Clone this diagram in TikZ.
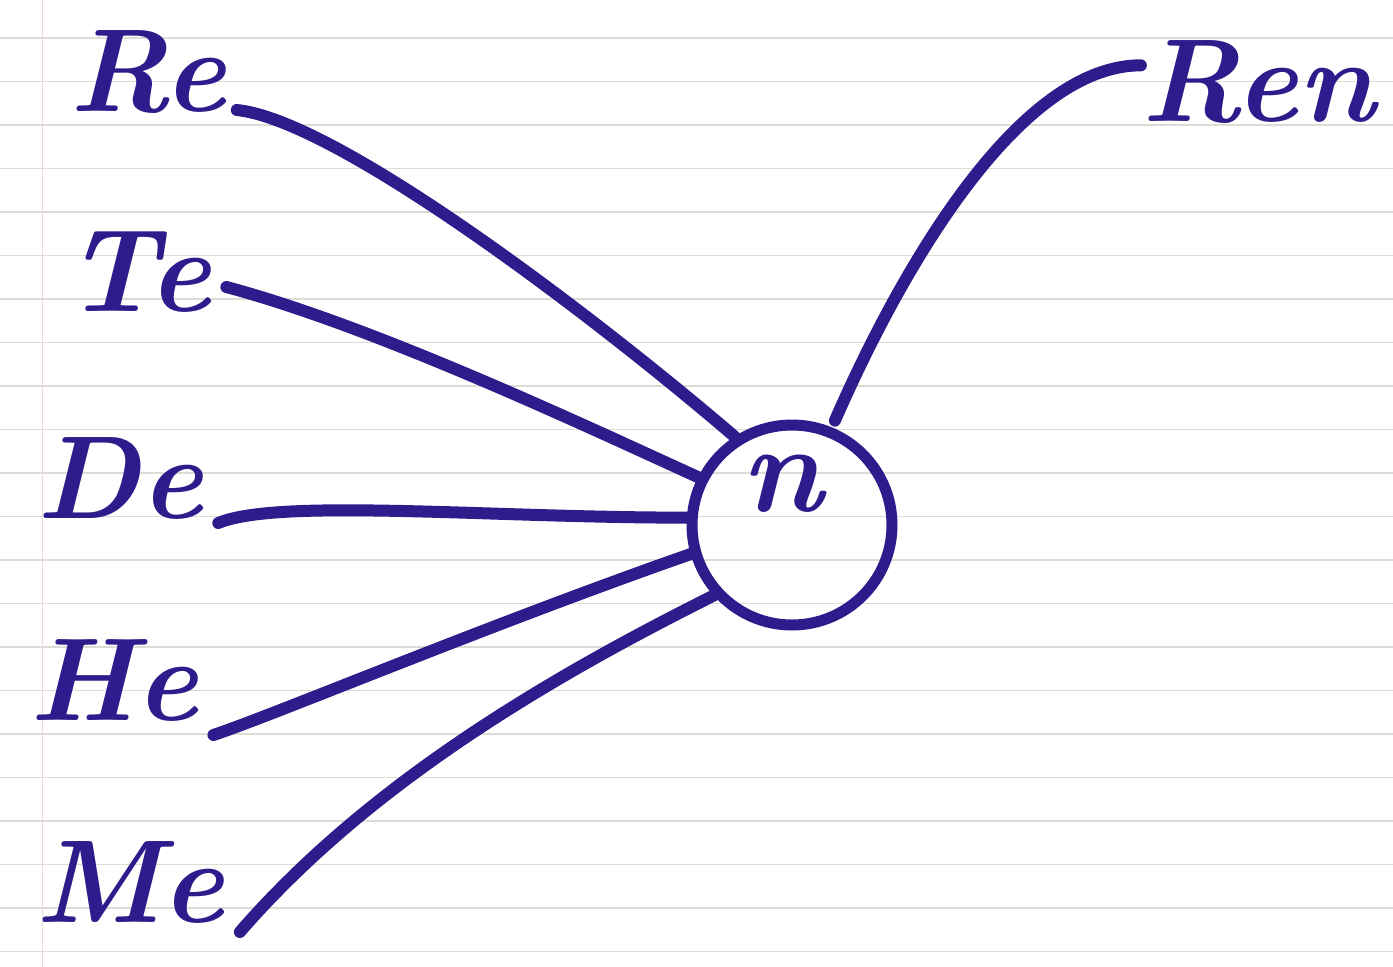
\documentclass[tikz,border=0pt]{standalone}
\usepackage{fontspec}
\definecolor{ink}{RGB}{44,28,140}
\definecolor{rule}{RGB}{222,219,214}
\definecolor{margin}{RGB}{240,215,215}
\tikzset{
  lbl/.style={text=ink, font=\fontsize{118}{118}\selectfont\bfseries\itshape, inner sep=0pt},
  inkline/.style={draw=ink, line width=12pt, line cap=round},
}
\begin{document}
\begin{tikzpicture}[x=1pt,y=-1pt]
  \useasboundingbox (0,0) rectangle (1393,967);
  \fill[white] (0,0) rectangle (1393,967);
  % ruled paper
  \foreach \k in {0,...,21} {
    \draw[rule, line width=1.2pt] (0,{38+43.5*\k}) -- (1393,{38+43.5*\k});
  }
  \draw[margin, line width=1pt] (42,0) -- (42,967);

  % centre
  \node[draw=ink, line width=11pt, circle, minimum size=200pt, inner sep=0pt] (c) at (792,525) {};
  \node[lbl, font=\fontsize{125}{125}\selectfont\bfseries\itshape] (n) at (782,484) {n};

  % labels
  \node[lbl] (re) at (148,72) {Re};
  \node[lbl] (te) at (138,272) {Te};
  \node[lbl] (de) at (120,478) {De};
  \node[lbl] (he) at (114,680) {He};
  \node[lbl] (me) at (130,882) {Me};
  \node[lbl] (ren) at (1258,82) {Ren};

  % connectors
  \draw[inkline] (re.east) ++(10,38) coordinate (res)
        (res) .. controls +(100,10) and +(-140,-120) .. (c.123);
  \draw[inkline] (te.east) ++(15,15) coordinate (tes)
        (tes) .. controls +(150,40) and +(-110,-50) .. (c.153);
  \draw[inkline] (de.east) ++(15,45) coordinate (des)
        (des) .. controls +(60,-25) and +(-200,0) .. (c.176);
  \draw[inkline] (he.east) ++(15,55) coordinate (hes)
        (hes) .. controls +(60,-20) and +(-200,70) .. (c.196);
  \draw[inkline] (me.east) ++(15,50) coordinate (mes)
        (mes) .. controls +(130,-150) and +(-160,80) .. (c.222);
  \draw[inkline] (c.66) ++(0,-8) coordinate (ce)
        (ce) .. controls +(70,-160) and +(-120,0) .. ([yshift=-25pt]ren.north west);
\end{tikzpicture}
\end{document}
